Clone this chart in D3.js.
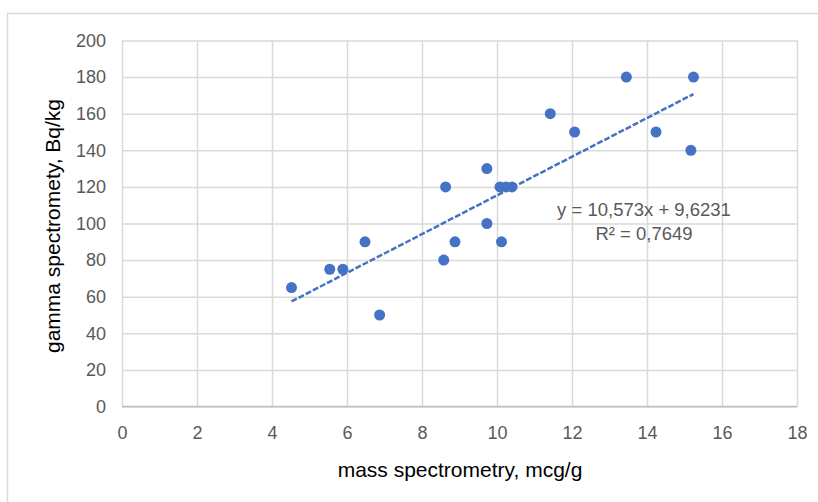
<!DOCTYPE html>
<html lang="en">
<head>
<meta charset="UTF-8" />
<title>gamma vs mass spectrometry</title>
<script src="https://d3js.org/d3.v7.min.js"></script>
<style>
  body { margin: 0; background: #fff; font-family: "Liberation Sans", Arial, sans-serif; }
  .tick text { fill: #595959; }
</style>
</head>
<body>
<svg width="818" height="502"></svg>
<script>
// data
const massX = [4.52, 5.54, 5.89, 6.48, 6.87, 8.58, 8.63, 8.88, 9.73, 9.73,
               10.08, 10.12, 10.24, 10.40, 11.42, 12.07, 13.45, 14.24, 15.17, 15.24];
const gammaY = [65, 75, 75, 90, 50, 80, 120, 90, 130, 100,
                120, 90, 120, 120, 160, 150, 180, 150, 140, 180];
const xTicks = [0, 2, 4, 6, 8, 10, 12, 14, 16, 18];
const yTicks = [0, 20, 40, 60, 80, 100, 120, 140, 160, 180, 200];
const slope = 10.573, intercept = 9.6231;
const eqText = "y = 10,573x + 9,6231";
const r2Text = "R² = 0,7649";

const svg = d3.select("svg");
const blue = "#4472c4";
const grid = "#d9d9d9";

// chart frame
svg.append("rect")
  .attr("x", 7.5).attr("y", 13.5)
  .attr("width", 840).attr("height", 540)
  .attr("fill", "#fff").attr("stroke", grid).attr("stroke-width", 1.5);

const x = d3.scaleLinear().domain([0, 18]).range([122, 797]);
const y = d3.scaleLinear().domain([0, 200]).range([406.5, 40.5]);

// gridlines
svg.append("g")
  .attr("transform", `translate(${x(0)},0)`)
  .call(d3.axisLeft(y).tickValues(yTicks).tickSize(-(x(18) - x(0))).tickFormat(""))
  .call(g => g.select(".domain").remove())
  .call(g => g.selectAll("line").attr("stroke", grid).attr("stroke-width", 1.5));

svg.append("g")
  .attr("transform", `translate(0,${y(0)})`)
  .call(d3.axisBottom(x).tickValues(xTicks).tickSize(-(y(0) - y(200))).tickFormat(""))
  .call(g => g.select(".domain").remove())
  .call(g => g.selectAll("line").attr("stroke", grid).attr("stroke-width", 1.5));

// bottom axis line
svg.append("line")
  .attr("x1", x(0)).attr("x2", x(18)).attr("y1", y(0)).attr("y2", y(0))
  .attr("stroke", "#bfbfbf").attr("stroke-width", 1.5);

// tick labels
svg.append("g")
  .attr("transform", `translate(${x(0)},0)`)
  .call(d3.axisLeft(y).tickValues(yTicks).tickSize(0).tickPadding(16))
  .call(g => g.select(".domain").remove())
  .call(g => g.selectAll("text").style("font-size", "18px"));

svg.append("g")
  .attr("transform", `translate(0,${y(0)})`)
  .call(d3.axisBottom(x).tickValues(xTicks).tickSize(0).tickPadding(20))
  .call(g => g.select(".domain").remove())
  .call(g => g.selectAll("text").style("font-size", "18px"));

// trendline
const x0 = d3.min(massX), x1 = d3.max(massX);
svg.append("line")
  .attr("x1", x(x0)).attr("y1", y(slope * x0 + intercept))
  .attr("x2", x(x1)).attr("y2", y(slope * x1 + intercept))
  .attr("stroke", blue).attr("stroke-width", 2.5)
  .attr("stroke-dasharray", "6,2");

// points
svg.append("g")
  .selectAll("circle")
  .data(massX.map((d, i) => [d, gammaY[i]]))
  .enter().append("circle")
  .attr("cx", d => x(d[0]))
  .attr("cy", d => y(d[1]))
  .attr("r", 5.5)
  .attr("fill", blue);

// equation
const eq = svg.append("g").attr("fill", "#595959").style("font-size", "18.5px")
  .attr("text-anchor", "middle");
eq.append("text").attr("x", 644).attr("y", 216).text(eqText);
eq.append("text").attr("x", 644).attr("y", 240).text(r2Text);

// axis titles
svg.append("text")
  .attr("x", 460).attr("y", 477)
  .attr("text-anchor", "middle")
  .style("font-size", "21px")
  .attr("fill", "#000")
  .text("mass spectrometry, mcg/g");

svg.append("text")
  .attr("transform", "translate(60,226) rotate(-90)")
  .attr("text-anchor", "middle")
  .style("font-size", "21px")
  .attr("fill", "#000")
  .text("gamma spectromety, Bq/kg");
</script>
</body>
</html>
